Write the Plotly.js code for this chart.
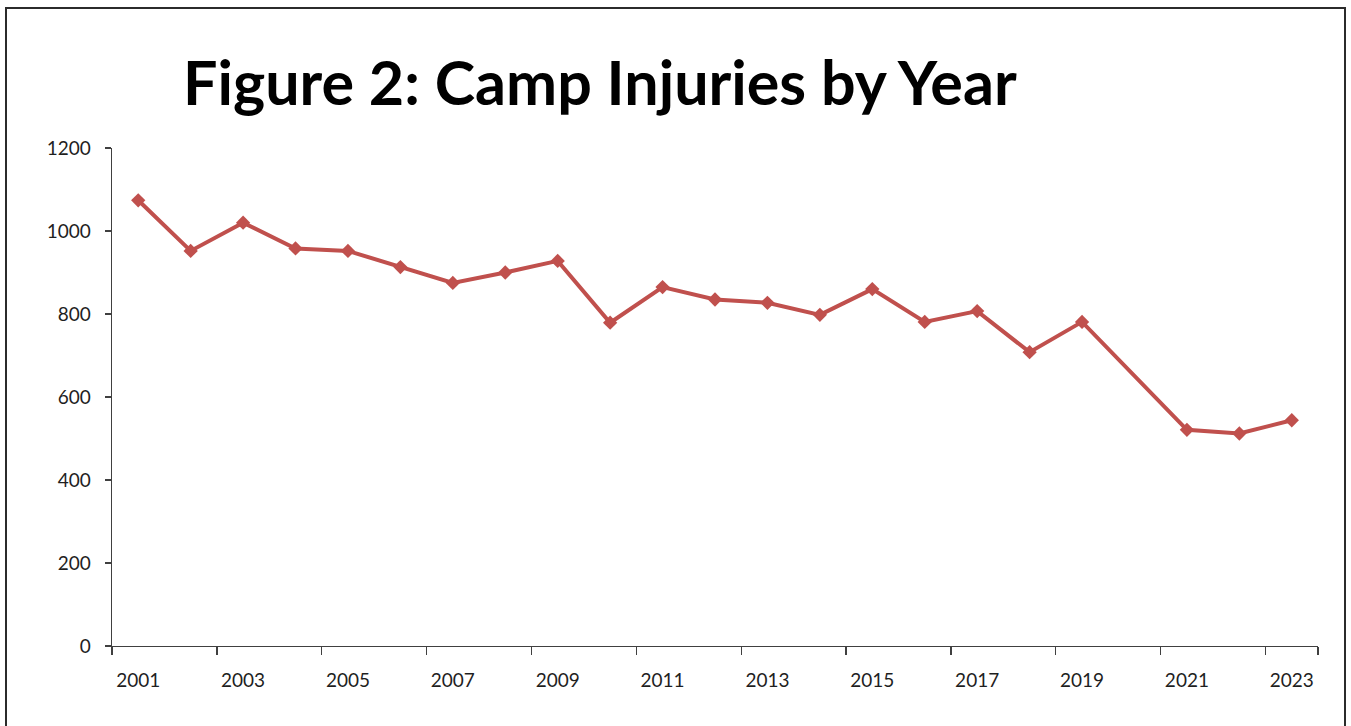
<!DOCTYPE html>
<html>
<head>
<meta charset="utf-8">
<script src="https://cdn.plot.ly/plotly-3.0.1.min.js"></script>
<style>
  html, body { margin: 0; padding: 0; background: #ffffff; }
  #wrap { position: relative; width: 1351px; height: 726px; overflow: hidden; }
  #chart { width: 1351px; height: 726px; }
  #frame { position: absolute; left: 5px; top: 7px; width: 1341px; height: 740px;
           border: 2px solid #2b2b2b; box-sizing: border-box; pointer-events: none; }
</style>
</head>
<body>
<div id="wrap">
  <div id="chart"></div>
  <div id="frame"></div>
</div>
<script>
// Data (2020 has no value; the line connects across it)
const years = ["2001","2002","2003","2004","2005","2006","2007","2008","2009","2010","2011",
               "2012","2013","2014","2015","2016","2017","2018","2019","2020","2021","2022","2023"];
const injuries = [1074, 952, 1020, 958, 952, 913, 875, 900, 928, 779, 865,
                  835, 827, 798, 860, 781, 807, 708, 781, null, 521, 512, 544];
const yTicks = [0, 200, 400, 600, 800, 1000, 1200];
const chartTitle = "Figure 2: Camp Injuries by Year";

const tickFont = { family: "Lato, 'Open Sans', sans-serif", size: 19, color: "#1f1f1f" };

const trace = {
  type: "scatter",
  mode: "lines+markers",
  x: years,
  y: injuries,
  connectgaps: true,
  line: { color: "#C0504D", width: 4 },
  marker: { symbol: "diamond", size: 11, color: "#C0504D" },
  hoverinfo: "x+y"
};

const layout = {
  width: 1351,
  height: 726,
  paper_bgcolor: "#ffffff",
  plot_bgcolor: "#ffffff",
  showlegend: false,
  margin: { l: 112, r: 33, t: 148, b: 80, pad: 0 },
  title: {
    text: chartTitle,
    font: { family: "Lato, 'Open Sans', sans-serif", size: 61, color: "#000000", weight: "bold" },
    xref: "container", yref: "container",
    x: 183 / 1351, xanchor: "left",
    y: 1 - 84 / 726, yanchor: "middle"
  },
  xaxis: {
    type: "category",
    categoryorder: "array",
    categoryarray: years,
    range: [-0.5, years.length - 0.5],
    tickmode: "array",
    tickvals: years.filter((_, i) => i % 2 === 0),
    ticktext: years.filter((_, i) => i % 2 === 0),
    tickson: "boundaries",
    tickangle: 0,
    ticks: "outside",
    ticklen: 8,
    tickwidth: 1.3,
    tickcolor: "#404040",
    showline: true,
    linecolor: "#404040",
    linewidth: 1.3,
    showgrid: false,
    zeroline: false,
    tickfont: tickFont,
    ticklabelstandoff: 17
  },
  yaxis: {
    range: [0, 1200],
    tickmode: "array",
    tickvals: yTicks,
    ticktext: yTicks.map(String),
    ticks: "outside",
    ticklen: 6,
    tickwidth: 1.3,
    tickcolor: "#404040",
    showline: true,
    linecolor: "#404040",
    linewidth: 1.3,
    showgrid: false,
    zeroline: false,
    tickfont: tickFont,
    ticklabelstandoff: 10
  }
};

Plotly.newPlot("chart", [trace], layout, { displayModeBar: false, staticPlot: true });
</script>
</body>
</html>
